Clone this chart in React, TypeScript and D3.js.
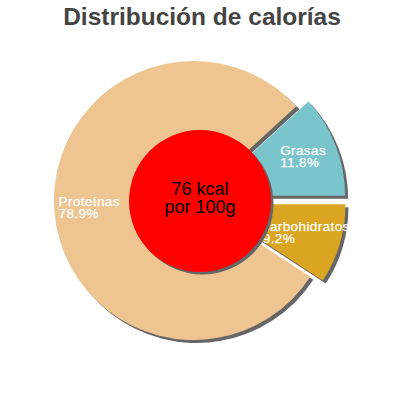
import React, { useEffect, useRef } from "react";
import * as d3 from "d3";

const title = "Distribución de calorías";
const categories = ["Proteínas", "Grasas", "carbohidratos"];
const percents = [78.9, 11.8, 9.2];
const exploded = [false, true, true];
const centerLines = ["76 kcal", "por 100g"];
const sliceColors = ["#EEC591", "#7AC4CC", "#DAA520"];

export default function App() {
  const ref = useRef<SVGSVGElement>(null);
  useEffect(() => {
    const svg = d3.select(ref.current);
    svg.selectAll("*").remove();
    const cx = 193.5, cy = 200.5, R = 139.5, explode = 13, sh = 3;
    const font = "'Liberation Sans', Arial, sans-serif";

    svg.append("text")
      .attr("x", 202).attr("y", 25)
      .attr("text-anchor", "middle")
      .attr("font-family", font).attr("font-size", 24.5).attr("font-weight", "bold")
      .attr("fill", "#444")
      .text(title);

    const total = d3.sum(percents);
    const before = d3.sum(percents.slice(0, 2));
    const start = Math.PI / 2 - (2 * Math.PI * before) / total;
    const pie = d3.pie<number>().sort(null).value((d) => d).startAngle(start).endAngle(start + 2 * Math.PI);
    const arcs = pie(percents);
    const arc = d3.arc<any>().innerRadius(0).outerRadius(R);
    const labelArc = d3.arc<any>().innerRadius(R * 0.75).outerRadius(R * 0.75);
    const off = (a: any, i: number) => {
      if (!exploded[i]) return [0, 0];
      const m = (a.startAngle + a.endAngle) / 2;
      return [explode * Math.sin(m), -explode * Math.cos(m)];
    };

    const g = svg.append("g").attr("transform", `translate(${cx},${cy})`);
    g.selectAll("path.shadow").data(arcs).join("path")
      .attr("class", "shadow")
      .attr("d", arc as any)
      .attr("fill", "#666")
      .attr("transform", (a, i) => { const [dx, dy] = off(a, i); return `translate(${dx + sh},${dy + sh})`; });
    g.selectAll("path.slice").data(arcs).join("path")
      .attr("class", "slice")
      .attr("d", arc as any)
      .attr("fill", (_, i) => sliceColors[i])
      .attr("transform", (a, i) => { const [dx, dy] = off(a, i); return `translate(${dx},${dy})`; });

    arcs.forEach((a, i) => {
      const [dx, dy] = off(a, i);
      const [lx, ly] = labelArc.centroid(a);
      const px = lx + dx, py = ly + dy;
      const t = g.append("text")
        .attr("font-family", font).attr("font-size", 13.5)
        .attr("letter-spacing", 0.4)
        .attr("fill", "#fff")
        .attr("stroke", "#fff").attr("stroke-width", 0.25);
      const lines = [categories[i], d3.format(".1f")(percents[i]) + "%"];
      lines.forEach((l, k) => {
        t.append("tspan").attr("x", 0).attr("y", py - 3 + k * 12).text(l);
      });
      const w = (t.node() as SVGTextElement).getBBox().width;
      t.selectAll("tspan").attr("x", px - w / 2);
    });

    const ccx = 200, ccy = 201, cr = 71;
    svg.append("circle").attr("cx", ccx + 2.5).attr("cy", ccy + 2.5).attr("r", cr).attr("fill", "#666");
    svg.append("circle").attr("cx", ccx).attr("cy", ccy).attr("r", cr).attr("fill", "#FF0000");
    centerLines.forEach((l, k) => {
      svg.append("text")
        .attr("x", ccx).attr("y", ccy - 6 + k * 18)
        .attr("text-anchor", "middle")
        .attr("font-family", font).attr("font-size", 18)
        .attr("fill", "#000")
        .text(l);
    });
  }, []);
  return (
    <svg ref={ref} width={400} height={400} style={{ position: "absolute", left: 0, top: 0, background: "#fff" }} />
  );
}
